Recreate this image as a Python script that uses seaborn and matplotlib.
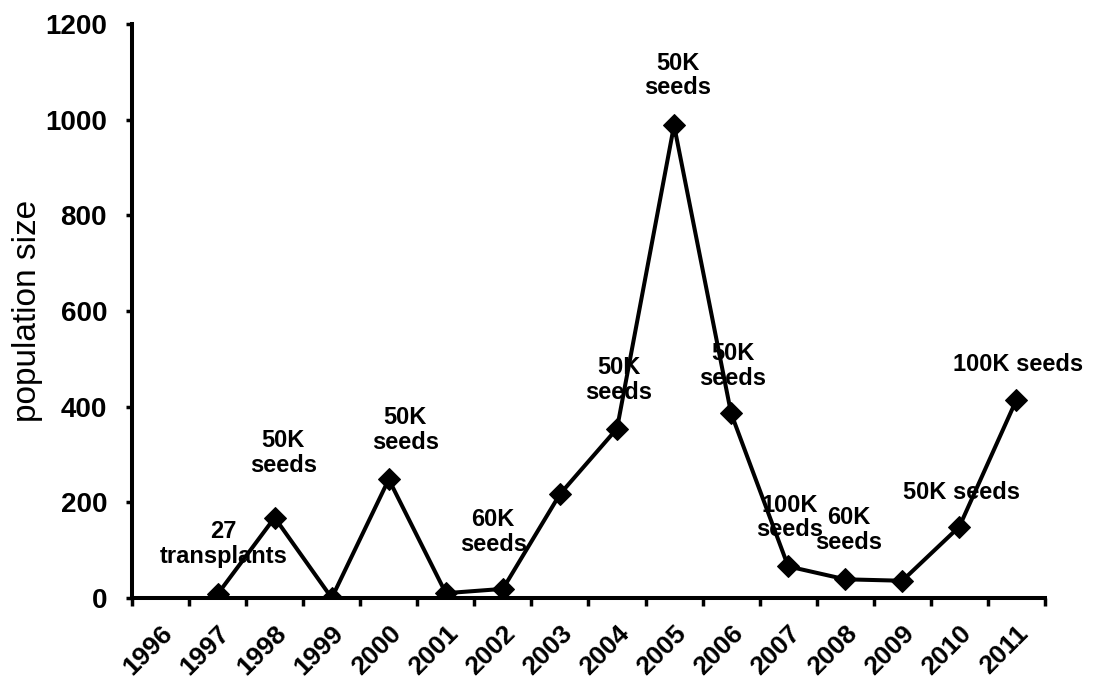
import numpy as np
import pandas as pd
import seaborn as sns
import matplotlib.pyplot as plt

########################################################
# Data
########################################################
years = [1996, 1997, 1998, 1999, 2000, 2001, 2002, 2003,
         2004, 2005, 2006, 2007, 2008, 2009, 2010, 2011]
population = [np.nan, 8, 168, 0, 248, 10, 19, 217,
              354, 988, 386, 66, 39, 36, 149, 414]

# annotation text with the point (year, value) where it sits
note_text = ["27\ntransplants", "50K\nseeds", "50K\nseeds", "60K\nseeds",
             "50K\nseeds", "50K\nseeds", "50K\nseeds", "100K\nseeds",
             "60K\nseeds", "50K seeds", "100K seeds"]
note_year = [1997.10, 1998.15, 2000.29, 2001.83, 2004.03, 2005.06,
             2006.03, 2007.03, 2008.06, 2010.03, 2011.03]
note_value = [113, 303, 351, 138, 456, 1092, 485, 168, 142, 220, 487]

df = pd.DataFrame({'year': years, 'population': population})

########################################################
# Plot
########################################################
sns.set_style("ticks")
plt.rcParams['font.family'] = ['Liberation Sans', 'DejaVu Sans']
plt.rcParams['text.color'] = 'black'
plt.rcParams['axes.labelcolor'] = 'black'
plt.rcParams['xtick.color'] = 'black'
plt.rcParams['ytick.color'] = 'black'
plt.rcParams['axes.edgecolor'] = 'black'

fig = plt.figure(figsize=(10.93, 6.83), dpi=100)
ax = fig.add_axes([0.1208, 0.1245, 0.956 - 0.1208, 0.965 - 0.1245])

sns.lineplot(data=df, x='year', y='population', color='black',
             linewidth=2.9, marker='D', markersize=11,
             markeredgecolor='black', ax=ax)

for txt, xx, yy in zip(note_text, note_year, note_value):
    ax.text(xx, yy, txt, ha='center', va='center', fontsize=17,
            fontweight='bold', linespacing=1.1, color='black')

ax.set_xlim(years[0] - 0.5, years[-1] + 0.5)
ax.set_ylim(0, 1200)
ax.set_yticks([0, 200, 400, 600, 800, 1000, 1200])
ax.set_xticks(years)
ax.set_xticklabels([str(y) for y in years], rotation=45, ha='right',
                   va='top', rotation_mode='anchor')
ax.set_xticks([y - 0.5 for y in years] + [years[-1] + 0.5], minor=True)

ax.tick_params(axis='x', which='major', length=0, pad=17, labelsize=19)
ax.tick_params(axis='x', which='minor', length=6, width=2.5, direction='out')
ax.tick_params(axis='y', length=4, width=2.5, pad=14, labelsize=20)
for lab in ax.get_xticklabels() + ax.get_yticklabels():
    lab.set_fontweight('bold')

for side in ['left', 'bottom']:
    ax.spines[side].set_linewidth(2.9)
sns.despine(ax=ax)

ax.set_xlabel('')
ax.set_ylabel('population size', fontsize=24)
ax.yaxis.set_label_coords(-0.098, 0.5)

plt.savefig('out.png', dpi=100)
